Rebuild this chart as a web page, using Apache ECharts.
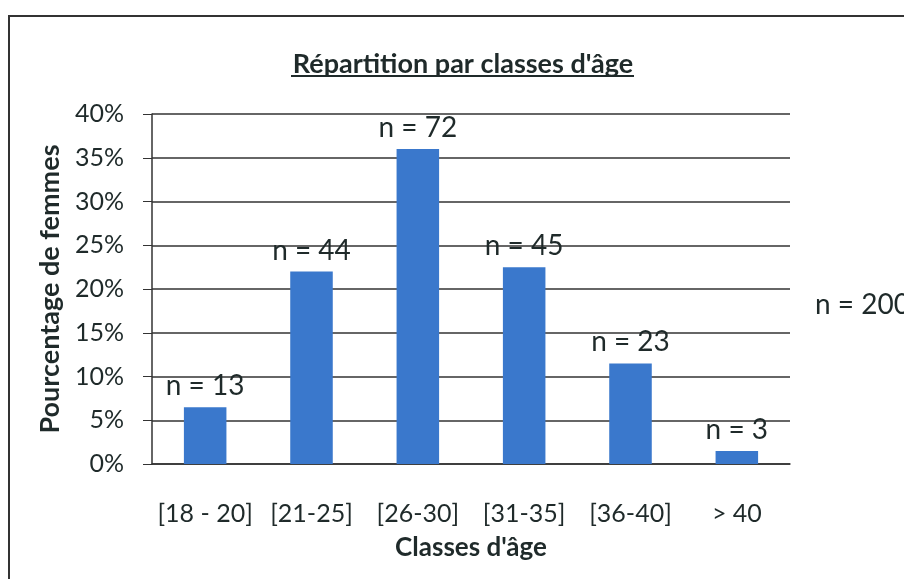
<!DOCTYPE html>
<html>
<head>
<meta charset="utf-8">
<script src="https://cdn.jsdelivr.net/npm/echarts@6/dist/echarts.min.js"></script>
<style>
  html, body { margin: 0; padding: 0; background: #fff; }
  #chart { width: 904px; height: 579px; }
</style>
</head>
<body>
<div id="chart"></div>
<script>
const categories = ['[18 - 20]', '[21-25]', '[26-30]', '[31-35]', '[36-40]', '> 40'];
const percents = [6.5, 22, 36, 22.5, 11.5, 1.5];
const counts = [13, 44, 72, 45, 23, 3];
const total = 200;

const font = 'Lato, "Open Sans", sans-serif';
const ink = '#1f2a2a';

const chart = echarts.init(document.getElementById('chart'));

chart.setOption({
  animation: false,
  textStyle: { fontFamily: font },
  title: {
    text: 'Répartition par classes d\'âge',
    left: 458,
    textAlign: 'center',
    top: 46,
    textStyle: {
      fontFamily: font, fontSize: 27, fontWeight: 'bold', color: ink
    }
  },
  graphic: [
    // cadre du graphique scanné
    { type: 'rect', shape: { x: 9, y: 16, width: 920, height: 600 },
      style: { fill: 'none', stroke: '#333', lineWidth: 2 } },
    // soulignement du titre
    { type: 'line', shape: { x1: 291, y1: 76, x2: 634, y2: 76 },
      style: { stroke: ink, lineWidth: 2 } },
    { type: 'text', left: 815, top: 291,
      style: { text: 'n = ' + total, fontFamily: font, fontSize: 28, fill: ink } }
  ],
  grid: { left: 152, right: 114, top: 114, bottom: 115 },
  xAxis: {
    type: 'category',
    data: categories,
    name: 'Classes d\'âge',
    nameLocation: 'middle',
    nameGap: 71,
    nameTextStyle: { fontFamily: font, fontSize: 26, fontWeight: 'bold', color: ink },
    axisLine: { lineStyle: { color: '#333', width: 1.5 } },
    axisTick: { show: false },
    axisLabel: { interval: 0, fontSize: 25, color: ink, margin: 37, fontFamily: font }
  },
  yAxis: {
    type: 'value',
    min: 0,
    max: 40,
    interval: 5,
    name: 'Pourcentage de femmes',
    nameLocation: 'middle',
    nameGap: 88,
    nameTextStyle: { fontFamily: font, fontSize: 27, fontWeight: 'bold', color: ink },
    axisLine: { show: true, lineStyle: { color: '#333', width: 1.5 } },
    axisTick: { show: true, length: 9, lineStyle: { color: '#333' } },
    axisLabel: { fontSize: 25, color: ink, margin: 28, formatter: '{value}%', fontFamily: font },
    splitLine: { lineStyle: { color: '#333', width: 1.5 } }
  },
  series: [{
    type: 'bar',
    data: percents,
    barWidth: '40%',
    itemStyle: { color: '#3a78cc' },
    label: {
      show: true,
      position: 'top',
      distance: 7,
      fontSize: 28,
      color: ink,
      fontFamily: font,
      formatter: p => 'n = ' + counts[p.dataIndex]
    }
  }]
});
</script>
</body>
</html>
